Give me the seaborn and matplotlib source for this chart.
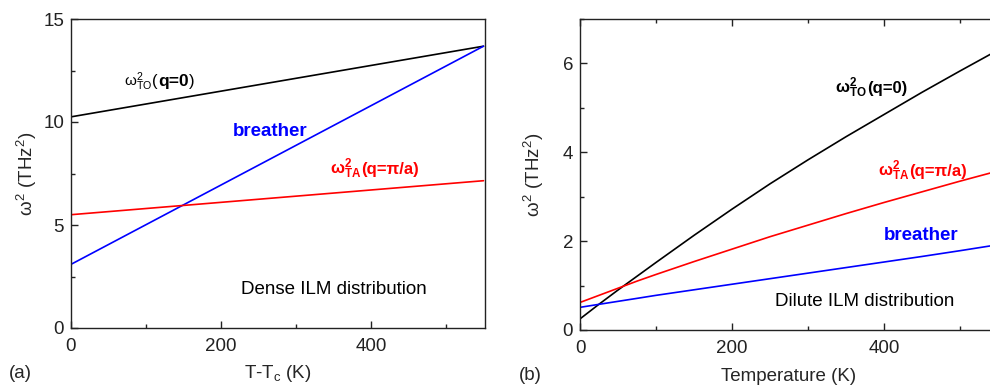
import matplotlib
matplotlib.use("Agg")
import matplotlib.pyplot as plt
from matplotlib.ticker import MultipleLocator
import seaborn as sns
import pandas as pd

# ---- data panel (a): dense ILM distribution ----
a_T = [0, 550]
a_TO = [10.25, 13.68]
a_breather = [3.09, 13.68]
a_TA = [5.50, 7.15]

# ---- data panel (b): dilute ILM distribution ----
b_T = [0, 25, 50, 75, 100, 150, 200, 250, 300, 350, 400, 450, 500, 550]
b_TO = [0.25, 0.58, 0.90, 1.21, 1.52, 2.13, 2.72, 3.29, 3.83, 4.35, 4.85, 5.35, 5.83, 6.30]
b_TA = [0.62, 0.78, 0.94, 1.10, 1.25, 1.54, 1.82, 2.10, 2.36, 2.62, 2.87, 3.11, 3.35, 3.58]
b_breather = [0.51, 0.578, 0.645, 0.712, 0.78, 0.905, 1.03, 1.155, 1.28, 1.405, 1.53, 1.655, 1.785, 1.92]

sns.set_style("ticks")
plt.rcParams['font.family'] = ['Liberation Sans', 'DejaVu Sans']
plt.rcParams['mathtext.fontset'] = 'custom'
plt.rcParams['mathtext.rm'] = 'Liberation Sans'
plt.rcParams['mathtext.it'] = 'Liberation Sans'
plt.rcParams['mathtext.bf'] = 'Liberation Sans:bold'

fig = plt.figure(figsize=(9.9, 3.86), dpi=100)
axA = fig.add_axes([71/990, 58/386, 414/990, 309/386])
axB = fig.add_axes([580/990, 56/386, 418/990, 311/386])

dfA = pd.DataFrame({'T': a_T * 3,
                    'w2': a_TO + a_breather + a_TA,
                    'mode': ['TO'] * 2 + ['breather'] * 2 + ['TA'] * 2})
dfB = pd.DataFrame({'T': b_T * 3,
                    'w2': b_TO + b_TA + b_breather,
                    'mode': ['TO'] * len(b_T) + ['TA'] * len(b_T) + ['breather'] * len(b_T)})
pal = {'TO': 'black', 'TA': '#ff0000', 'breather': '#0000ff'}

sns.lineplot(data=dfA, x='T', y='w2', hue='mode', palette=pal, ax=axA,
             legend=False, linewidth=1.2)
sns.lineplot(data=dfB, x='T', y='w2', hue='mode', palette=pal, ax=axB,
             legend=False, linewidth=1.2)

fs = 13.5
fl = 12
for ax in (axA, axB):
    for s in ax.spines.values():
        s.set_linewidth(1.0)
        s.set_color('#222222')
    ax.xaxis.set_major_locator(MultipleLocator(200))
    ax.xaxis.set_minor_locator(MultipleLocator(100))
    ax.tick_params(which='both', direction='in', labelsize=fs, colors='#222222',
                   width=1.0)
    ax.tick_params(which='major', length=5)
    ax.tick_params(which='minor', length=3)
    ax.tick_params(axis='x', pad=7)
    ax.tick_params(axis='y', pad=5)

axA.set_xlim(0, 552)
axA.set_ylim(0, 15)
axA.yaxis.set_major_locator(MultipleLocator(5))
axA.yaxis.set_minor_locator(MultipleLocator(2.5))
axA.set_xlabel(r'T-T$_{\rm c}$ (K)', fontsize=fs, labelpad=6)
axA.set_ylabel(r'$\omega^2$ (THz$^2$)', fontsize=fs, labelpad=3)

axB.set_xlim(0, 550)
axB.set_ylim(0, 7)
axB.yaxis.set_major_locator(MultipleLocator(2))
axB.yaxis.set_minor_locator(MultipleLocator(1))
axB.tick_params(which='both', top=True)
axB.spines['right'].set_visible(False)
axB.set_xlabel('Temperature (K)', fontsize=fs, labelpad=8)
axB.set_ylabel(r'$\omega^2$ (THz$^2$)', fontsize=fs, labelpad=12)

renderer = fig.canvas.get_renderer()


def chain(x_px, y_px, parts, color):
    """Place text pieces one after another starting at pixel (x_px, y_px from top)."""
    x = x_px
    for s, size, weight in parts:
        t = fig.text(x / 990, 1 - y_px / 386, s, fontsize=size, fontweight=weight,
                     color=color, va='baseline')
        bb = t.get_window_extent(renderer)
        x = bb.x1


# annotations panel (a)
chain(124, 86, [(r'ω$^{2}_{\rm TO}$', 11, 'normal'), ('(', fl, 'normal'),
                ('q=0', fl + 0.5, 'bold'), (')', fl, 'normal')], 'black')
fig.text(233/990, 254/386, 'breather', fontsize=fs, fontweight='bold',
         color='#0000ff', va='center')
chain(330, 174, [(r'ω$^{\mathbf{2}}_{\mathbf{TA}}$', fl, 'bold'),
                 ('(q=π/a)', fl, 'bold')], '#ff0000')
fig.text(241/990, 97/386, 'Dense ILM distribution', fontsize=fs, color='black', va='center')

# annotations panel (b)
chain(835, 93, [(r'ω$^{\mathbf{2}}_{\mathbf{TO}}$', fl, 'bold'),
                ('(q=0)', fl, 'bold')], 'black')
chain(878, 176, [(r'ω$^{\mathbf{2}}_{\mathbf{TA}}$', fl, 'bold'),
                 ('(q=π/a)', fl, 'bold')], '#ff0000')
fig.text(884/990, 150/386, 'breather', fontsize=fs, fontweight='bold',
         color='#0000ff', va='center')
fig.text(775/990, 84/386, 'Dilute ILM distribution', fontsize=fs,
         color='black', va='center')

fig.text(9/990, 12/386, '(a)', fontsize=fs, va='center')
fig.text(519/990, 11/386, '(b)', fontsize=fs, va='center')

fig.savefig('out.png', dpi=100)
